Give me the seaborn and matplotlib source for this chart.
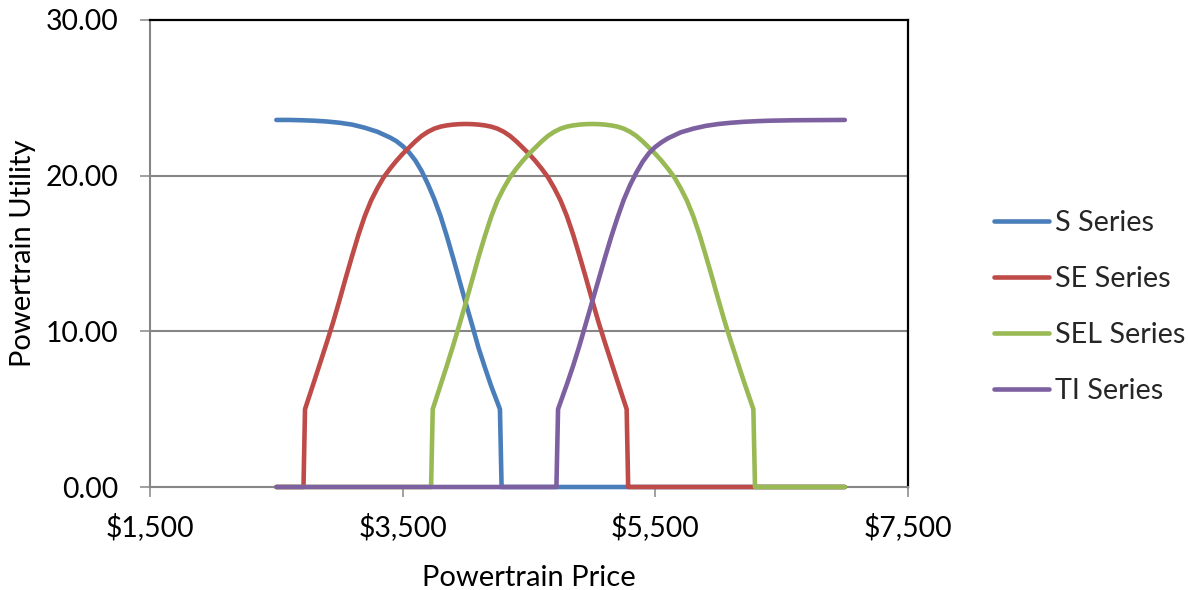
import matplotlib
matplotlib.use("Agg")
import matplotlib.pyplot as plt
import pandas as pd
import seaborn as sns

# Price points (USD) and utility values for each powertrain series
s_price = [2500, 2600, 2700, 2800, 2900, 3000, 3100, 3200, 3300, 3400, 3450, 3500,
           3550, 3600, 3650, 3700, 3750, 3800, 3850, 3900, 3950, 4000, 4050, 4100,
           4150, 4200, 4270, 4283, 7000]
s_util = [23.58, 23.58, 23.56, 23.53, 23.48, 23.40, 23.28, 23.08, 22.82, 22.45, 22.22, 21.90,
          21.50, 20.98, 20.30, 19.45, 18.50, 17.40, 16.10, 14.70, 13.25, 11.80, 10.40, 8.95,
          7.70, 6.50, 5.00, 0.00, 0.00]

se_price = [2500, 2715, 2727, 2800, 2850, 2900, 2950, 3000, 3050, 3100, 3150, 3200, 3250,
            3300, 3350, 3400, 3450, 3500, 3550, 3600, 3650, 3700, 3750, 3800, 3850, 3900,
            3950, 4000, 4050, 4100, 4150, 4200, 4250, 4300, 4350, 4400, 4450, 4500, 4550,
            4600, 4650, 4700, 4750, 4800, 4850, 4900, 4950, 5000, 5050, 5100, 5150, 5200,
            5273, 5285, 7000]
se_util = [0.00, 0.00, 5.00, 6.80, 8.05, 9.30, 10.60, 12.00, 13.45, 14.85, 16.20, 17.40, 18.40,
           19.20, 19.90, 20.45, 20.95, 21.40, 21.80, 22.20, 22.55, 22.82, 23.02, 23.15, 23.23, 23.28,
           23.31, 23.32, 23.31, 23.28, 23.23, 23.15, 23.02, 22.82, 22.55, 22.20, 21.80, 21.40, 20.95,
           20.45, 19.90, 19.20, 18.40, 17.40, 16.20, 14.85, 13.45, 12.00, 10.60, 9.30, 8.05, 6.80,
           5.00, 0.00, 0.00]

sel_price = [2500, 3725, 3738, 3800, 3850, 3900, 3950, 4000, 4050, 4100, 4150, 4200, 4250,
             4300, 4350, 4400, 4450, 4500, 4550, 4600, 4650, 4700, 4750, 4800, 4850, 4900,
             4950, 5000, 5050, 5100, 5150, 5200, 5250, 5300, 5350, 5400, 5450, 5500, 5550,
             5600, 5650, 5700, 5750, 5800, 5850, 5900, 5950, 6000, 6050, 6100, 6150, 6200,
             6276, 6289, 7000]
sel_util = [0.00, 0.00, 5.00, 6.55, 7.80, 9.10, 10.45, 11.85, 13.30, 14.75, 16.10, 17.35, 18.40,
            19.20, 19.90, 20.45, 20.95, 21.40, 21.80, 22.20, 22.55, 22.82, 23.02, 23.15, 23.23, 23.28,
            23.31, 23.32, 23.31, 23.28, 23.23, 23.15, 23.02, 22.82, 22.55, 22.20, 21.80, 21.40, 20.95,
            20.45, 19.90, 19.20, 18.40, 17.40, 16.20, 14.85, 13.45, 12.00, 10.60, 9.30, 8.05, 6.80,
            5.00, 0.00, 0.00]

ti_price = [2500, 4717, 4730, 4800, 4850, 4900, 4950, 5000, 5050, 5100, 5150, 5200, 5250,
            5300, 5350, 5400, 5450, 5500, 5550, 5600, 5700, 5800, 5900, 6000, 6100, 6200,
            6300, 6400, 6600, 7000]
ti_util = [0.00, 0.00, 5.00, 6.60, 7.80, 9.10, 10.50, 11.90, 13.30, 14.70, 16.05, 17.30, 18.45,
           19.40, 20.20, 20.90, 21.45, 21.85, 22.15, 22.40, 22.78, 23.02, 23.20, 23.32, 23.40, 23.46,
           23.50, 23.53, 23.56, 23.58]

series_names = ["S Series", "SE Series", "SEL Series", "TI Series"]
series_colors = ["#4A7EBB", "#BE4B48", "#98B954", "#7D60A0"]

x_ticks = [1500, 3500, 5500, 7500]
x_tick_labels = ["$1,500", "$3,500", "$5,500", "$7,500"]
y_ticks = [0, 10, 20, 30]
y_tick_labels = ["0.00", "10.00", "20.00", "30.00"]

frames = []
for name, px, ut in zip(series_names,
                        [s_price, se_price, sel_price, ti_price],
                        [s_util, se_util, sel_util, ti_util]):
    frames.append(pd.DataFrame({"price": px, "utility": ut, "series": name}))
df = pd.concat(frames, ignore_index=True)

sns.set_theme(style="white")
plt.rcParams["font.family"] = ["Lato", "DejaVu Sans"]

fig = plt.figure(figsize=(11.88, 5.90), dpi=100)
ax = fig.add_axes([150 / 1188, 1 - 487 / 590, (908 - 150) / 1188, (487 - 20) / 590])

sns.lineplot(data=df, x="price", y="utility", hue="series", hue_order=series_names,
             palette=dict(zip(series_names, series_colors)), estimator=None, sort=False,
             linewidth=3.3, ax=ax, legend=True)
for line in ax.lines:
    line.set_solid_capstyle("round")
    line.set_solid_joinstyle("round")
    line.set_clip_on(False)
    line.set_zorder(5)

ax.set_xlim(1500, 7500)
ax.set_ylim(0, 30)
ax.set_xticks(x_ticks)
ax.set_xticklabels(x_tick_labels)
ax.set_yticks(y_ticks)
ax.set_yticklabels(y_tick_labels)

ax.grid(False)
for yv in y_ticks[1:-1]:
    ax.axhline(yv, color="#868686", linewidth=1.5, zorder=1)

grey = "#868686"
ax.spines["left"].set_color(grey)
ax.spines["bottom"].set_color(grey)
ax.spines["left"].set_linewidth(1.5)
ax.spines["bottom"].set_linewidth(1.5)
ax.spines["top"].set_color("#000000")
ax.spines["right"].set_color("#000000")
ax.spines["top"].set_linewidth(1.6)
ax.spines["right"].set_linewidth(1.6)

ax.tick_params(axis="both", which="major", direction="out", length=7, width=1.1,
               color=grey, labelsize=20.4, labelcolor="#000000",
               left=True, bottom=True)
ax.tick_params(axis="x", pad=11.5)
ax.tick_params(axis="y", pad=16)

ax.set_xlabel("Powertrain Price", fontsize=21, color="#000000")
ax.set_ylabel("Powertrain Utility", fontsize=21, color="#000000")
ax.xaxis.set_label_coords(0.5, (487 - 586) / 467)
ax.xaxis.label.set_va("baseline")
ax.yaxis.set_label_coords((36 - 150) / 758, 0.5)

handles, labels = ax.get_legend_handles_labels()
ax.legend(handles, labels, loc="center left", bbox_to_anchor=(980 / 1188, 1 - 307 / 590),
          bbox_transform=fig.transFigure, frameon=False, fontsize=20.7,
          handlelength=1.9, handletextpad=0.2, labelspacing=1.05, borderpad=0)

fig.savefig("out.png", dpi=100)
